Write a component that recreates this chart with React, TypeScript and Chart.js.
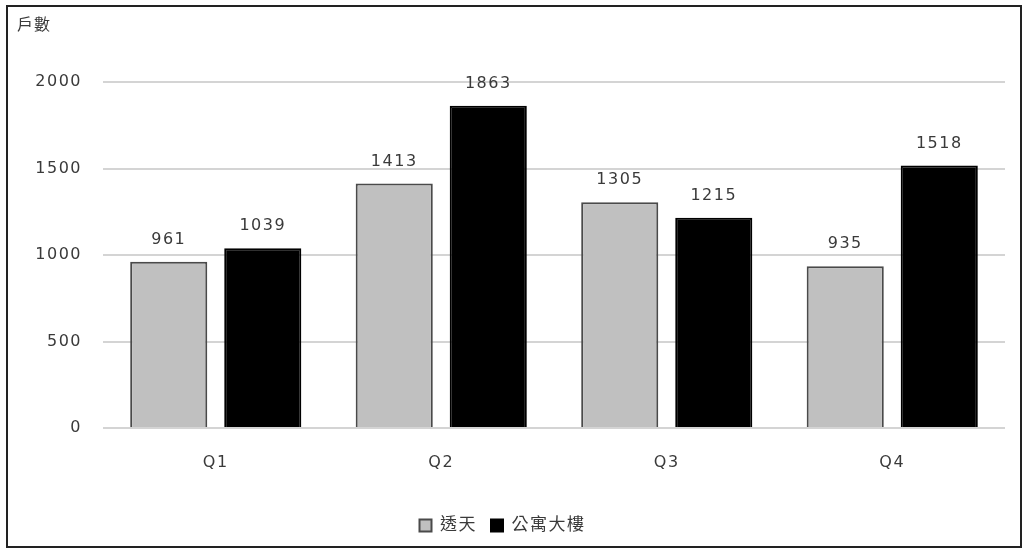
import React, { useEffect, useRef } from "react";
import { Chart, registerables } from "chart.js";

Chart.register(...registerables);

const quarters = ["Q1", "Q2", "Q3", "Q4"];
const townhouseCounts = [961, 1413, 1305, 935];
const apartmentCounts = [1039, 1863, 1215, 1518];
const seriesNames = ["透天", "公寓大樓"];
const yTitle = "戶數";

const FONT = "'DejaVu Sans', 'Noto Sans CJK TC', sans-serif";
const TEXT = "#3a3a3a";
const SPACING = "1.5px";

// Wider tracking for all text drawn on the canvas
const tracking = {
  id: "tracking",
  beforeLayout(chart: any) {
    chart.ctx.letterSpacing = SPACING;
  },
  beforeDraw(chart: any) {
    chart.ctx.letterSpacing = SPACING;
  },
};

// Prints each bar's value above it
const valueLabels = {
  id: "valueLabels",
  afterDatasetsDraw(chart: any) {
    const ctx = chart.ctx;
    ctx.save();
    ctx.letterSpacing = SPACING;
    ctx.font = `16px ${FONT}`;
    ctx.fillStyle = TEXT;
    ctx.textAlign = "center";
    ctx.textBaseline = "bottom";
    chart.data.datasets.forEach((ds: any, i: number) => {
      const meta = chart.getDatasetMeta(i);
      meta.data.forEach((bar: any, j: number) => {
        ctx.fillText(String(ds.data[j]), bar.x, bar.y - 14);
      });
    });
    ctx.restore();
  },
};

// Axis title sitting above the value axis
const axisTitle = {
  id: "axisTitle",
  afterDraw(chart: any) {
    const ctx = chart.ctx;
    ctx.save();
    ctx.letterSpacing = "1px";
    ctx.font = `16px ${FONT}`;
    ctx.fillStyle = TEXT;
    ctx.textAlign = "left";
    ctx.textBaseline = "middle";
    ctx.fillText(yTitle, 17, 26);
    ctx.restore();
  },
};

export default function App() {
  const canvasRef = useRef<HTMLCanvasElement>(null);

  useEffect(() => {
    const chart = new Chart(canvasRef.current!, {
      type: "bar",
      data: {
        labels: quarters,
        datasets: [
          {
            label: seriesNames[0],
            data: townhouseCounts,
            backgroundColor: "#c0c0c0",
            borderColor: "#4a4a4a",
            borderWidth: 2,
          },
          {
            label: seriesNames[1],
            data: apartmentCounts,
            backgroundColor: "#000000",
            borderColor: "#000000",
            borderWidth: 2,
          },
        ],
      },
      options: {
        animation: false,
        responsive: false,
        maintainAspectRatio: false,
        layout: { padding: { top: 82, right: 23, bottom: 8, left: 0 } },
        datasets: {
          bar: { categoryPercentage: 0.834, barPercentage: 0.82 },
        },
        scales: {
          x: {
            afterFit(scale: any) {
              scale.height = 75;
            },
            grid: { display: false },
            border: { display: false },
            ticks: { color: TEXT, font: { family: FONT, size: 16 }, padding: 17 },
          },
          y: {
            min: 0,
            max: 2000,
            afterFit(scale: any) {
              scale.width = 103;
            },
            ticks: {
              stepSize: 500,
              color: TEXT,
              padding: 21,
              font: { family: FONT, size: 16 },
              callback: (v: any) => String(v),
            },
            grid: { color: "#d4d4d4", lineWidth: 2, drawTicks: false },
            border: { display: false },
          },
        },
        plugins: {
          legend: {
            position: "bottom",
            labels: {
              color: TEXT,
              font: { family: FONT, size: 17 },
              boxWidth: 12,
              boxHeight: 12,
              padding: 14,
            },
          },
          tooltip: { enabled: false },
        },
      },
      plugins: [tracking, valueLabels, axisTitle],
    });
    return () => chart.destroy();
  }, []);

  return (
    <div style={{ position: "absolute", left: 0, top: 0, width: 1028, height: 552, background: "#fff" }}>
      <canvas ref={canvasRef} width={1028} height={552} style={{ display: "block" }} />
      <div
        style={{
          position: "absolute",
          left: 6,
          top: 5,
          width: 1016,
          height: 543,
          boxSizing: "border-box",
          border: "2px solid #222",
          pointerEvents: "none",
        }}
      />
    </div>
  );
}
